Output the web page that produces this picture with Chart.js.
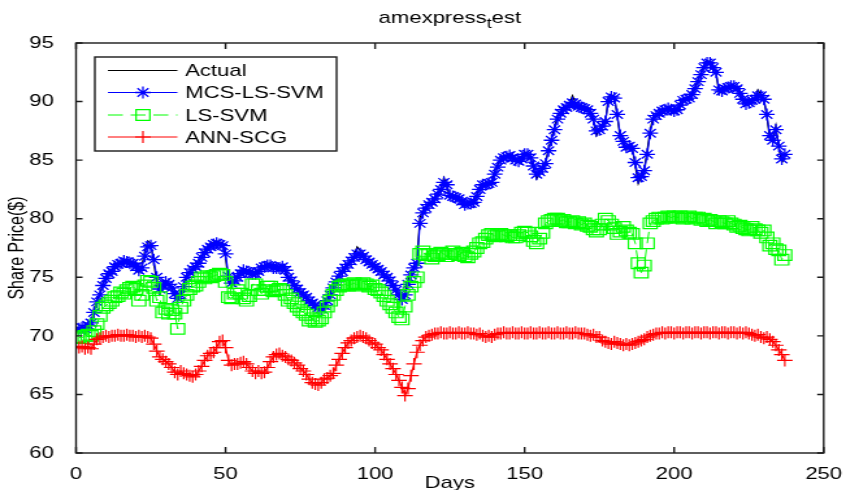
<!DOCTYPE html>
<html>
<head>
<meta charset="utf-8">
<script src="https://cdn.jsdelivr.net/npm/chart.js@4.4.1/dist/chart.umd.min.js"></script>
<style>
  html, body { margin: 0; padding: 0; background: #fff; overflow: hidden; }
  /* the source figure is stretched sideways, so the canvas is too */
  #chart { display: block; width: 846px !important; height: 490px !important; }
</style>
</head>
<body>
<canvas id="chart" width="651" height="490" style="width:846px;height:490px"></canvas>
<script>
// Share price ($) per trading day
const actual = [
  70.5,70.6,70.7,70.9,71.0,72.3,73.0,73.6,74.5,75.0,
  75.3,75.6,75.9,76.1,76.3,76.4,76.2,76.3,76.2,75.8,
  75.4,76.0,77.2,78.1,77.9,76.2,74.6,73.6,74.5,74.7,
  74.3,74.0,73.4,73.0,73.6,74.4,75.3,75.5,75.8,75.9,
  76.3,76.8,77.3,77.6,77.8,78.0,78.1,77.9,78.0,76.7,
  74.6,74.2,74.8,75.0,75.4,75.7,75.5,75.4,75.3,75.3,
  75.6,75.9,76.0,76.2,76.0,75.9,75.8,75.9,76.0,75.5,
  74.8,74.6,74.2,73.9,73.6,73.4,73.2,72.9,72.7,72.5,
  72.3,72.2,72.6,73.1,73.6,74.2,74.8,75.3,75.6,75.9,
  76.2,76.4,76.9,77.6,77.3,77.0,76.5,76.3,76.1,75.9,
  75.7,75.4,75.2,75.0,74.6,74.2,73.8,73.3,72.9,73.6,
  74.7,75.5,76.0,76.4,80.1,80.7,81.0,81.3,81.5,81.8,
  82.2,82.6,83.5,82.8,81.8,81.9,81.7,81.7,81.4,81.1,
  81.3,81.2,81.4,82.0,82.7,83.0,82.9,83.0,83.1,84.1,
  84.6,85.2,85.3,85.4,85.5,85.2,85.0,84.8,85.2,85.7,
  85.5,85.2,84.2,83.4,83.9,84.3,84.8,86.0,86.9,87.8,
  88.8,89.1,89.4,89.6,89.8,90.5,89.9,89.6,89.5,89.4,
  89.3,89.0,88.4,87.1,87.6,88.0,88.2,90.4,90.6,90.4,
  88.7,86.8,86.5,85.9,86.3,86.0,84.5,83.0,83.6,84.2,
  85.8,87.6,88.7,88.9,89.1,89.2,89.3,89.5,89.4,89.0,
  89.3,89.8,90.2,90.3,90.4,90.7,91.2,91.9,92.5,93.1,
  93.5,93.4,93.0,92.5,90.7,90.9,91.1,91.3,91.3,91.4,
  91.2,90.7,90.1,89.7,89.9,90.1,90.3,91.0,90.6,90.2,
  88.7,86.8,86.6,87.9,86.0,84.8,85.2
];

const mcsLsSvm = [
  70.6,70.7,70.6,70.9,71.1,72.0,72.9,73.5,74.3,74.9,
  75.3,75.5,75.9,76.1,76.2,76.4,76.3,76.2,76.2,75.9,
  75.6,75.8,76.8,77.6,77.7,76.5,75.0,74.0,74.3,74.6,
  74.4,74.1,73.6,73.2,73.5,74.2,75.0,75.4,75.7,75.9,
  76.2,76.7,77.1,77.4,77.6,77.8,77.9,77.8,77.7,77.0,
  75.1,74.5,74.7,75.0,75.3,75.6,75.5,75.4,75.3,75.3,
  75.5,75.8,75.9,76.0,76.0,75.8,75.8,75.8,75.9,75.6,
  75.0,74.7,74.3,74.0,73.7,73.5,73.3,73.0,72.8,72.6,
  72.4,72.3,72.6,73.0,73.5,74.1,74.6,75.1,75.5,75.8,
  76.1,76.4,76.7,77.0,77.0,76.8,76.5,76.3,76.1,75.9,
  75.7,75.5,75.2,75.0,74.7,74.3,73.9,73.5,73.1,73.5,
  74.4,75.2,75.8,76.2,79.6,80.5,80.9,81.2,81.4,81.7,
  82.1,82.5,83.1,82.9,82.0,81.9,81.8,81.7,81.5,81.2,
  81.3,81.3,81.4,81.9,82.5,82.9,82.9,83.0,83.1,83.8,
  84.4,85.0,85.2,85.3,85.4,85.2,85.0,84.9,85.1,85.5,
  85.5,85.2,84.5,83.8,84.0,84.3,84.7,85.8,86.7,87.6,
  88.5,89.0,89.3,89.5,89.7,89.9,89.8,89.6,89.5,89.4,
  89.3,89.0,88.5,87.5,87.6,87.9,88.3,90.0,90.4,90.3,
  88.9,87.1,86.6,86.1,86.2,86.0,84.8,83.5,83.6,84.1,
  85.5,87.3,88.5,88.8,89.0,89.2,89.3,89.4,89.3,89.2,
  89.3,89.7,90.1,90.2,90.3,90.6,91.1,91.7,92.3,92.9,
  93.3,93.3,92.9,92.5,91.0,90.9,91.1,91.2,91.3,91.3,
  91.1,90.7,90.2,89.8,89.9,90.1,90.2,90.5,90.5,90.2,
  88.9,87.1,86.7,87.6,86.2,85.1,85.5
];

const lsSvm = [
  69.9,69.8,70.0,70.1,70.0,70.4,71.0,71.7,72.4,72.6,
  72.8,73.0,73.3,73.4,73.7,73.6,73.9,74.1,74.2,74.0,
  73.0,73.5,74.3,74.7,74.6,74.1,73.0,73.3,72.0,72.3,
  71.9,72.2,71.9,70.6,72.4,73.0,73.5,74.0,74.2,74.3,
  74.6,75.0,74.9,75.1,75.0,75.1,75.2,75.3,75.2,74.6,
  73.3,73.2,73.6,73.9,73.6,73.2,73.0,73.4,74.4,74.4,
  73.9,73.6,73.9,74.2,74.2,73.8,73.9,74.0,73.9,73.5,
  73.0,73.2,72.8,72.5,72.2,72.0,71.8,71.3,71.5,71.2,
  71.3,71.5,72.0,72.5,73.0,73.5,73.9,74.2,74.3,74.4,
  74.3,74.4,74.5,74.3,74.4,74.5,74.4,74.2,74.3,74.0,
  73.9,73.7,73.4,73.0,72.7,72.4,72.0,71.6,71.4,72.5,
  73.5,74.2,74.6,75.0,77.0,77.2,76.9,77.0,76.6,76.8,
  76.9,77.1,77.0,76.8,77.0,77.2,77.0,76.9,77.1,76.8,
  76.7,77.0,77.2,77.5,77.9,78.0,78.3,78.6,78.7,78.5,
  78.6,78.7,78.6,78.5,78.6,78.4,78.4,78.6,78.8,78.9,
  78.8,78.5,78.1,77.9,78.3,78.8,79.6,79.8,79.9,80.0,
  80.0,79.8,79.9,79.7,79.7,79.8,79.6,79.7,79.5,79.6,
  79.4,79.3,79.1,78.9,79.1,79.5,80.0,79.8,79.5,79.2,
  78.7,78.9,79.3,79.0,78.8,78.7,77.9,76.2,75.4,76.0,
  77.9,79.6,79.8,80.0,80.1,80.0,80.1,80.2,80.1,80.2,
  80.1,80.2,80.0,80.1,80.2,80.0,80.1,80.1,79.9,80.0,
  79.8,79.9,79.8,79.6,79.8,79.7,79.6,79.8,79.6,79.5,
  79.3,79.4,79.2,79.1,79.0,79.3,79.1,79.0,78.8,79.0,
  78.4,77.7,77.9,77.4,77.3,76.5,76.9
];

const annScg = [
  69.0,69.1,68.9,69.0,68.9,69.3,69.7,69.8,69.9,70.0,
  69.9,70.0,70.0,70.1,70.0,70.0,70.1,70.0,70.0,69.9,
  70.0,69.9,70.0,69.9,69.8,69.3,68.7,68.2,68.0,67.8,
  67.6,67.3,66.9,66.7,67.0,66.8,66.7,66.6,66.5,66.7,
  67.0,67.4,67.9,68.3,68.5,68.6,69.0,69.5,69.6,69.0,
  67.9,67.5,67.6,67.6,67.7,67.8,67.6,67.3,67.0,66.8,
  67.0,66.8,66.9,67.3,67.8,68.2,68.4,68.5,68.3,68.2,
  68.0,67.9,67.7,67.5,67.2,67.0,66.7,66.3,66.0,65.9,
  65.8,66.0,66.3,66.4,66.6,66.8,67.5,68.0,68.5,69.0,
  69.4,69.6,69.8,69.9,70.0,69.9,69.8,69.6,69.4,69.3,
  69.0,68.8,68.4,68.0,67.6,67.2,66.7,66.2,65.6,64.9,
  65.5,66.6,67.6,68.6,69.2,69.6,69.9,70.0,70.1,70.2,
  70.2,70.3,70.2,70.2,70.3,70.2,70.2,70.3,70.2,70.2,
  70.3,70.2,70.2,70.1,70.2,70.0,69.9,70.0,69.9,70.1,
  70.2,70.2,70.3,70.2,70.2,70.3,70.2,70.2,70.3,70.2,
  70.2,70.3,70.2,70.2,70.3,70.2,70.2,70.3,70.2,70.2,
  70.3,70.2,70.2,70.3,70.2,70.2,70.3,70.2,70.2,70.2,
  70.1,70.0,70.1,69.9,69.9,69.6,69.5,69.4,69.3,69.5,
  69.4,69.3,69.2,69.3,69.2,69.3,69.4,69.5,69.6,69.7,
  69.9,70.0,70.1,70.2,70.2,70.3,70.2,70.3,70.3,70.2,
  70.3,70.3,70.2,70.3,70.3,70.2,70.3,70.3,70.2,70.3,
  70.3,70.2,70.3,70.3,70.2,70.3,70.3,70.2,70.3,70.3,
  70.2,70.3,70.2,70.3,70.2,70.1,70.0,70.1,69.9,69.8,
  69.9,69.7,69.5,69.2,68.8,68.4,67.9
];

const seriesNames = ['Actual', 'MCS-LS-SVM', 'LS-SVM', 'ANN-SCG'];
const xTicks = [0, 50, 100, 150, 200, 250];
const yTicks = [60, 65, 70, 75, 80, 85, 90, 95];
const titleParts = ['amexpress', 't', 'est']; // "t" is a subscript in the original
const xTitle = 'Days';
const yTitle = 'Share Price($)';

const days = actual.map((_, i) => i + 1);
const toPoints = (vals) => vals.map((v, i) => ({ x: days[i], y: v }));

const FONT = '"Liberation Sans", Arial, Helvetica, sans-serif';
Chart.defaults.font.family = FONT;
Chart.defaults.color = '#000';

// hand-drawn markers for the legend (same shapes as the chart points)
function marker(ctx, style, x, y, r) {
    ctx.beginPath();
    if (style === 'star') {
        ctx.moveTo(x - r, y); ctx.lineTo(x + r, y);
        ctx.moveTo(x, y - r); ctx.lineTo(x, y + r);
        const d = r * Math.SQRT1_2;
        ctx.moveTo(x - d, y - d); ctx.lineTo(x + d, y + d);
        ctx.moveTo(x - d, y + d); ctx.lineTo(x + d, y - d);
    } else if (style === 'rect') {
        const s = r * Math.SQRT1_2;
        ctx.rect(x - s, y - s, 2 * s, 2 * s);
    } else if (style === 'cross') {
        ctx.moveTo(x - r, y); ctx.lineTo(x + r, y);
        ctx.moveTo(x, y - r); ctx.lineTo(x, y + r);
    }
    ctx.stroke();
}

const titlePlugin = {
    id: 'subTitle',
    afterDraw(chart) {
        const ctx = chart.ctx;
        const area = chart.chartArea;
        ctx.save();
        ctx.fillStyle = '#000';
        ctx.textBaseline = 'middle';
        ctx.font = '17px ' + FONT;
        const w1 = ctx.measureText(titleParts[0]).width;
        const w3 = ctx.measureText(titleParts[2]).width;
        ctx.font = '14px ' + FONT;
        const w2 = ctx.measureText(titleParts[1]).width;
        let x = (area.left + area.right) / 2 - (w1 + w2 + w3) / 2;
        const y = 18;
        ctx.font = '17px ' + FONT;
        ctx.fillText(titleParts[0], x, y);
        x += w1;
        ctx.font = '14px ' + FONT;
        ctx.fillText(titleParts[1], x, y + 6);
        x += w2;
        ctx.font = '17px ' + FONT;
        ctx.fillText(titleParts[2], x, y);
        ctx.restore();
    }
};

// matlab style box with inward ticks on all four sides
const framePlugin = {
    id: 'frame',
    afterDatasetsDraw(chart) {
        const { ctx, chartArea: a, scales } = chart;
        ctx.save();
        ctx.strokeStyle = '#1a1a1a';
        ctx.lineWidth = 1.4;
        ctx.strokeRect(a.left, a.top, a.right - a.left, a.bottom - a.top);
        ctx.beginPath();
        xTicks.forEach(t => {
            const px = scales.x.getPixelForValue(t);
            ctx.moveTo(px, a.bottom); ctx.lineTo(px, a.bottom - 6);
            ctx.moveTo(px, a.top); ctx.lineTo(px, a.top + 6);
        });
        yTicks.forEach(t => {
            const py = scales.y.getPixelForValue(t);
            ctx.moveTo(a.left, py); ctx.lineTo(a.left + 5, py);
            ctx.moveTo(a.right, py); ctx.lineTo(a.right - 5, py);
        });
        ctx.stroke();
        ctx.restore();
    }
};

const legendPlugin = {
    id: 'boxLegend',
    afterDraw(chart) {
        const ctx = chart.ctx;
        const box = { left: 73, top: 57, right: 259, bottom: 151 };
        const rows = [70.5, 92.5, 115, 137];
        ctx.save();
        ctx.fillStyle = '#fff';
        ctx.fillRect(box.left, box.top, box.right - box.left, box.bottom - box.top);
        ctx.strokeStyle = '#1a1a1a';
        ctx.lineWidth = 1.4;
        ctx.strokeRect(box.left, box.top, box.right - box.left, box.bottom - box.top);
        chart.data.datasets.forEach((ds, i) => {
            const y = rows[i];
            ctx.strokeStyle = ds.borderColor;
            ctx.lineWidth = 1;
            ctx.setLineDash(ds.borderDash || []);
            ctx.beginPath();
            ctx.moveTo(83, y); ctx.lineTo(136.5, y);
            ctx.stroke();
            ctx.setLineDash([]);
            ctx.lineWidth = ds.pointBorderWidth || 1;
            if (ds.pointRadius > 0) marker(ctx, ds.pointStyle, 110, y, ds.pointRadius);
            ctx.fillStyle = '#000';
            ctx.font = '17px ' + FONT;
            ctx.textBaseline = 'middle';
            ctx.fillText(ds.label, 142.5, y + 1);
        });
        ctx.restore();
    }
};

const ctx = document.getElementById('chart').getContext('2d');
new Chart(ctx, {
    type: 'line',
    data: {
        datasets: [
            {
                label: seriesNames[0],
                data: toPoints(actual),
                borderColor: '#000000',
                borderWidth: 1.2,
                pointRadius: 0,
                order: 3
            },
            {
                label: seriesNames[1],
                data: toPoints(mcsLsSvm),
                borderColor: '#0000ff',
                borderWidth: 1.2,
                pointStyle: 'star',
                pointRadius: 6,
                pointBorderColor: '#0000ff',
                pointBorderWidth: 1.3,
                order: 2
            },
            {
                label: seriesNames[2],
                data: toPoints(lsSvm),
                borderColor: '#00ff00',
                borderWidth: 1,
                borderDash: [11.5, 6],
                pointStyle: 'rect',
                pointRadius: 7.5,
                pointBorderColor: '#00ff00',
                pointBackgroundColor: 'rgba(0,0,0,0)',
                pointBorderWidth: 1.2,
                order: 1
            },
            {
                label: seriesNames[3],
                data: toPoints(annScg),
                borderColor: '#ff0000',
                borderWidth: 1.2,
                pointStyle: 'cross',
                pointRadius: 6,
                pointBorderColor: '#ff0000',
                pointBorderWidth: 1.2,
                order: 0
            }
        ]
    },
    options: {
        responsive: false,
        animation: false,
        layout: { padding: { top: 43, right: 14.6, bottom: 0, left: 0 } },
        plugins: {
            legend: { display: false },
            tooltip: { enabled: false },
            title: { display: false }
        },
        elements: { line: { tension: 0, fill: false } },
        scales: {
            x: {
                type: 'linear',
                min: 0,
                max: 250,
                afterBuildTicks: (s) => { s.ticks = xTicks.map(v => ({ value: v })); },
                afterFit: (s) => { s.height = 37; },
                grid: { display: false },
                border: { display: false },
                ticks: { font: { size: 17 }, color: '#000', padding: 3, maxRotation: 0 },
                title: { display: true, text: xTitle, font: { size: 17, lineHeight: 1 }, color: '#000', padding: { top: 0, bottom: -1.5 } }
            },
            y: {
                min: 60,
                max: 95,
                afterBuildTicks: (s) => { s.ticks = yTicks.map(v => ({ value: v })); },
                afterFit: (s) => { s.width = 58.5; },
                grid: { display: false },
                border: { display: false },
                ticks: { font: { size: 17 }, color: '#000', padding: 9 },
                title: { display: true, text: yTitle, font: { size: 16, lineHeight: 1 }, color: '#000', padding: { top: 6, bottom: 0 } }
            }
        }
    },
    plugins: [framePlugin, titlePlugin, legendPlugin]
});
</script>
</body>
</html>
